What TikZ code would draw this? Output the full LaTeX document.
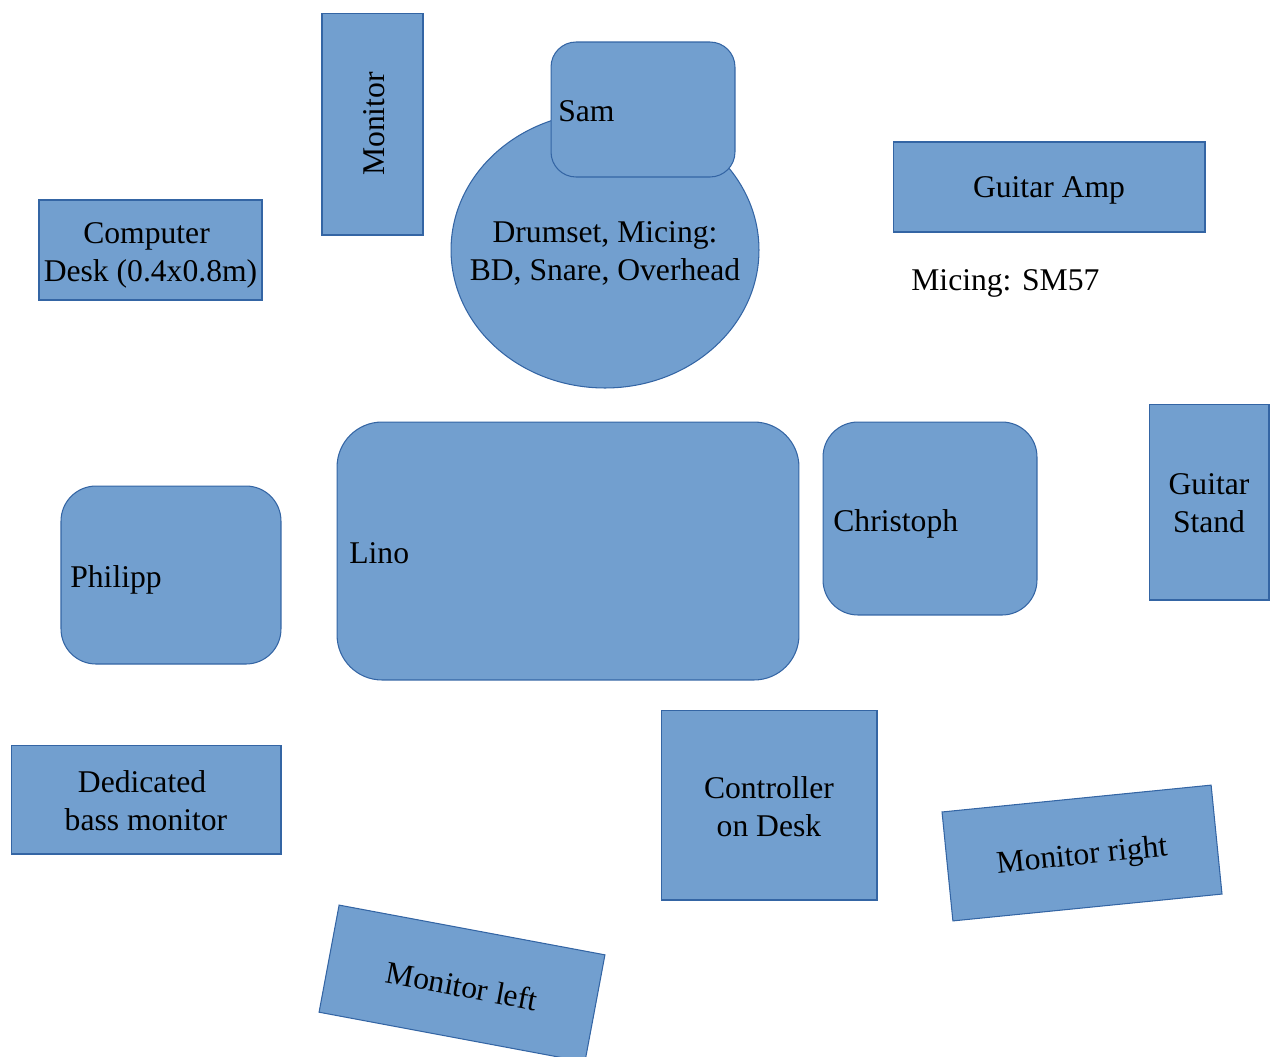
\documentclass[tikz,border=0pt]{standalone}
\usepackage{fontspec}
\setmainfont{Liberation Serif}
\usetikzlibrary{shapes.geometric}
\definecolor{boxfill}{HTML}{729FCF}
\definecolor{boxline}{HTML}{3465A4}
\begin{document}
\begin{tikzpicture}[x=0.02cm,y=-0.02cm,
  every node/.style={font=\fontsize{18}{21.5}\selectfont, text=black},
  blk/.style={draw=boxline, fill=boxfill, line width=0.6pt, inner sep=0pt},
  txt/.style={inner sep=0pt, align=center},
  lbl/.style={anchor=west, inner sep=0pt}]
\useasboundingbox (0,0) rectangle (1270,1056);
% top row
\node[blk, minimum width=4.44cm, minimum height=2.02cm, rotate=90] (mon) at (372.5,124) {};
\node[txt, rotate=90] (mont) at (374.5,124) {Monitor};
\node[blk, ellipse, minimum width=6.16cm, minimum height=5.52cm] (drum) at (605,250) {};
\node[blk, rounded corners=0.5cm, minimum width=3.68cm, minimum height=2.7cm] (sam) at (643,109.5) {};
\node[lbl] (samt) at (558,111) {Sam};
\node[txt] (drumt) at (605,253.5) {Drumset, Micing:\\BD, Snare, Overhead};
\node[blk, minimum width=4.46cm, minimum height=2.0cm] (desk) at (150.5,250) {};
\node[txt] (deskt) at (150.5,255.5) {Computer\kern4.5pt\\Desk (0.4x0.8m)};
\node[blk, minimum width=6.24cm, minimum height=1.8cm] (amp) at (1049,187) {};
\node[txt] (ampt) at (1049,190) {Guitar Amp};
\node[lbl] (mic) at (911,283) {Micing: SM57};
% middle row
\node[blk, rounded corners=0.9cm, minimum width=9.24cm, minimum height=5.16cm] (lino) at (568,551) {};
\node[lbl] (linot) at (349,553) {Lino};
\node[blk, rounded corners=0.7cm, minimum width=4.28cm, minimum height=3.86cm] (chris) at (930,518.5) {};
\node[lbl] (christ) at (833,524) {Christoph};
\node[blk, minimum width=2.4cm, minimum height=3.92cm] (stand) at (1209,502) {};
\node[txt] (standt) at (1209,503.5) {Guitar\\Stand};
\node[blk, rounded corners=0.7cm, minimum width=4.4cm, minimum height=3.56cm] (phil) at (171,575) {};
\node[lbl] (philt) at (70,580) {Philipp};
% bottom row
\node[blk, minimum width=5.4cm, minimum height=2.18cm] (bass) at (146,799.5) {};
\node[txt] (basst) at (146,801) {Dedicated\kern4.5pt\\bass monitor};
\node[blk, minimum width=4.32cm, minimum height=3.8cm] (ctrl) at (769,805) {};
\node[txt] (ctrlt) at (769,806.5) {Controller\\on Desk};
\node[blk, minimum width=5.41cm, minimum height=2.19cm, rotate=5.7] (monr) at (1082,853) {};
\node[txt, rotate=5.7] (monrt) at (1082,857) {Monitor right};
\node[blk, minimum width=5.41cm, minimum height=2.18cm, rotate=-10.6] (monl) at (462,983.5) {};
\node[txt, rotate=-10.6] (monlt) at (462,986) {Monitor left};
\end{tikzpicture}
\end{document}
